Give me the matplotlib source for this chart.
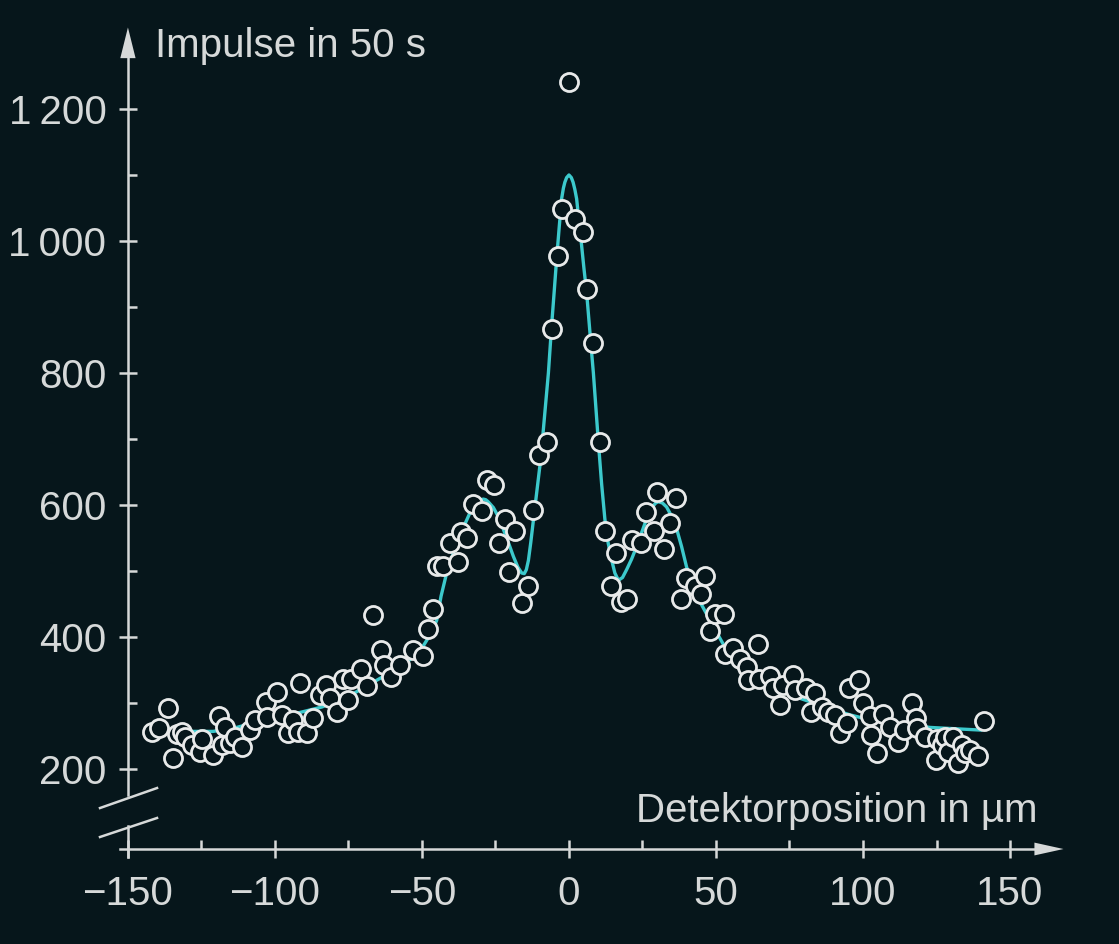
import matplotlib
matplotlib.use('Agg')
import matplotlib.pyplot as plt
from matplotlib.ticker import FixedLocator, FixedFormatter

# measured counts: detector position (µm), pulses in 50 s
pos = [-141.9, -139.3, -136.5, -134.6, -133.4, -131.7, -130.6, -128.3, -125.5, -124.9,
       -121.0, -118.9, -118.1, -117.0, -115.3, -113.6, -111.3, -108.5, -106.8, -103.1,
       -102.8, -99.4, -97.7, -95.5, -93.7, -92.1, -91.5, -89.2, -86.9, -84.7,
       -82.6, -81.3, -78.8, -77.0, -75.1, -74.3, -70.9, -68.6, -66.6, -64.1,
       -62.9, -60.7, -57.5, -53.2, -49.5, -47.8, -46.1, -45.0, -42.8, -40.5,
       -37.6, -36.8, -34.6, -32.5, -29.7, -27.8, -25.5, -23.7, -21.8, -20.3,
       -18.4, -15.9, -13.9, -12.1, -10.1, -7.6, -5.8, -3.6, -2.3, 0.0,
       2.0, 4.7, 6.2, 8.2, 10.5, 12.3, 14.4, 16.0, 17.6, 19.6,
       21.5, 24.4, 26.1, 28.9, 29.8, 32.3, 34.3, 36.3, 38.1, 39.7,
       42.9, 44.8, 46.3, 48.0, 49.7, 52.7, 53.1, 55.9, 58.2, 60.4,
       61.0, 64.4, 64.7, 68.4, 69.5, 71.8, 72.9, 76.3, 77.0, 80.7,
       82.2, 83.7, 86.0, 88.2, 90.5, 92.2, 94.5, 95.3, 98.7, 100.1,
       102.4, 102.8, 104.9, 106.7, 109.2, 112.0, 114.0, 116.5, 118.0, 118.4,
       121.1, 124.8, 125.0, 126.9, 127.9, 129.0, 130.7, 132.4, 133.6, 134.7,
       136.4, 139.2, 141.0]
counts = [256, 262, 292, 216, 253, 256, 249, 236, 226, 245,
          221, 280, 236, 264, 239, 249, 234, 259, 274, 302,
          279, 317, 282, 255, 274, 256, 330, 255, 277, 312,
          327, 307, 287, 337, 305, 337, 351, 326, 433, 380,
          358, 340, 358, 381, 371, 412, 443, 508, 508, 542,
          514, 559, 550, 601, 591, 638, 630, 543, 579, 499,
          560, 452, 478, 593, 676, 695, 866, 978, 1048, 1241,
          1033, 1013, 927, 845, 695, 560, 477, 527, 453, 457,
          547, 543, 589, 560, 620, 534, 573, 610, 458, 490,
          478, 465, 493, 409, 435, 435, 374, 384, 366, 355,
          335, 389, 337, 341, 322, 297, 327, 342, 320, 322,
          287, 315, 294, 287, 282, 254, 270, 322, 335, 300,
          280, 251, 224, 284, 263, 241, 259, 300, 277, 262,
          248, 214, 246, 236, 248, 226, 248, 209, 236, 224,
          229, 219, 272]

# fitted curve
fit_pos = [-140, -134, -128, -121, -113, -104, -93, -84, -75, -64,
           -57, -51, -47, -45, -43.5, -41.6, -39.5, -37, -35.3, -33.7,
           -32.3, -31, -30.1, -29.2, -28.3, -27.5, -25.7, -24, -22.3, -20.6,
           -18.9, -17.4, -16.1, -15.2, -14.5, -13.8, -13.0, -12.1, -11.0, -9.9,
           -9.0, -8.2, -7.0, -5.9, -5.0, -4.2, -3.3, -2.5, -1.9, -1.4,
           -0.8, 0, 0.8, 1.4, 2.0, 2.6, 3.4, 4.3, 5.1, 6.0,
           7.7, 8.3, 10.0, 11.1, 12.2, 13.3, 14.5, 15.6, 16.8, 18.2,
           19.6, 21.3, 23.0, 24.7, 26.4, 28.5, 29.5, 30.4, 31.8, 33.2,
           34.9, 36.6, 38.3, 40.0, 42.3, 44.6, 49.1, 53.6, 58.2, 62.5,
           67.2, 72.5, 78.6, 90, 95.6, 100.1, 110, 122.8, 140]
fit_counts = [262, 260, 257, 257, 263, 274, 284, 294, 310, 338,
              356, 376, 405, 425, 462, 497, 525, 552, 572, 588,
              598, 604, 607, 609, 608, 605, 596, 582, 563, 543,
              522, 506, 497, 496, 502, 516, 543, 577, 618, 659,
              700, 740, 800, 872, 925, 973, 1022, 1064, 1080, 1089,
              1096, 1100, 1096, 1089, 1078, 1064, 1030, 993, 958, 922,
              831, 800, 695, 632, 579, 543, 517, 497, 486, 490,
              502, 518, 537, 558, 579, 598, 603, 605, 603, 597,
              583, 564, 537, 506, 478, 453, 416, 380, 358, 342,
              330, 318, 307, 290, 282, 277, 270, 263, 259]

xticks = [-150, -100, -50, 0, 50, 100, 150]
xticklabels = ['\u2212150', '\u2212100', '\u221250', '0', '50', '100', '150']
xminor = [-125, -75, -25, 25, 75, 125]
yticks = [200, 400, 600, 800, 1000, 1200]
yticklabels = ['200', '400', '600', '800', '1\u2009000', '1\u2009200']
yminor = [300, 500, 700, 900, 1100]

bg = '#06161b'
fg = '#d6d9d9'
cyan = '#3cc9cc'

plt.rcParams['font.family'] = ['Liberation Sans', 'DejaVu Sans']

fig = plt.figure(figsize=(11.19, 9.44), dpi=100, facecolor=bg)
ax = fig.add_axes([100 / 1119, 74 / 944, 975 / 1119, 850 / 944])
ax.set_facecolor(bg)
ax.set_xlim(-159.5, 172.1)
ax.set_ylim(47.0, 1334.8)

# axes drawn like the textbook figure: arrows and a broken y axis
for s in ['top', 'right']:
    ax.spines[s].set_visible(False)
ax.spines['left'].set_position(('data', -150))
ax.spines['left'].set_bounds(160.6, 1285)
ax.spines['bottom'].set_position(('data', 78.8))
ax.spines['bottom'].set_bounds(-152.7, 162)
for s in ['left', 'bottom']:
    ax.spines[s].set_color(fg)
    ax.spines[s].set_linewidth(1.8)

ax.plot([-150, -150], [66.7, 113.6], color=fg, lw=1.8, clip_on=False)
ax.plot([-159.5, -140.1], [140.9, 171.2], color=fg, lw=1.8, clip_on=False)
ax.plot([-159.5, -140.1], [97.0, 125.8], color=fg, lw=1.8, clip_on=False)
ax.fill([-150, -152.6, -147.4], [1323.5, 1277.0, 1277.0], color=fg, lw=0, clip_on=False)
ax.fill([168.2, 158.3, 158.3], [78.8, 88.5, 69.1], color=fg, lw=0, clip_on=False)

ax.xaxis.set_major_locator(FixedLocator(xticks))
ax.xaxis.set_major_formatter(FixedFormatter(xticklabels))
ax.xaxis.set_minor_locator(FixedLocator(xminor))
ax.yaxis.set_major_locator(FixedLocator(yticks))
ax.yaxis.set_major_formatter(FixedFormatter(yticklabels))
ax.yaxis.set_minor_locator(FixedLocator(yminor))

ax.tick_params(which='major', direction='inout', length=13, width=1.8,
               color=fg, labelcolor=fg, labelsize=29)
ax.tick_params(which='minor', direction='in', length=6.5, width=1.8, color=fg)
ax.tick_params(axis='x', which='major', pad=12.5)
ax.tick_params(axis='y', which='major', pad=9)

ax.plot(fit_pos, fit_counts, color=cyan, lw=2.4, zorder=2)
ax.plot(pos, counts, 'o', ms=13, mfc=bg, mec='#e8eaea', mew=2.0, zorder=3)

fig.text(155 / 1119, 1 - 57 / 944, 'Impulse in 50 s', ha='left', va='baseline',
         fontsize=29, color=fg)
fig.text(1038 / 1119, 1 - 822 / 944, 'Detektorposition in \u00b5m', ha='right',
         va='baseline', fontsize=29, color=fg)

fig.savefig('out.png', dpi=100, facecolor=bg)
